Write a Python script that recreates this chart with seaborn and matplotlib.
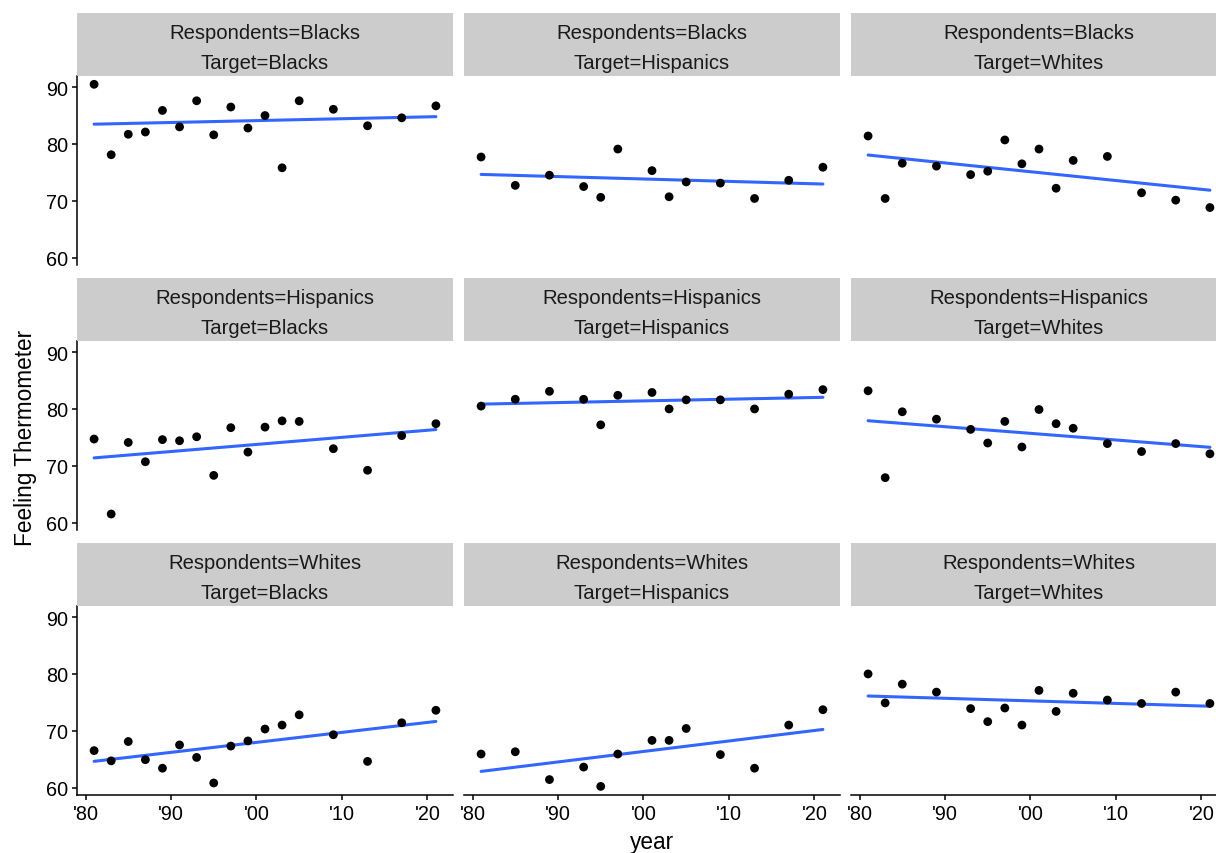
import numpy as np
import pandas as pd
import matplotlib
matplotlib.use("Agg")
import matplotlib.pyplot as plt
import seaborn as sns

# ---------------- data ----------------
groups = ["Blacks", "Hispanics", "Whites"]

years_target_blacks = [1981, 1983, 1985, 1987, 1989, 1991, 1993, 1995, 1997, 1999,
                       2001, 2003, 2005, 2009, 2013, 2017, 2021]
years_target_hispanics = [1981, 1985, 1989, 1993, 1995, 1997, 2001, 2003, 2005,
                          2009, 2013, 2017, 2021]
years_target_whites = [1981, 1983, 1985, 1989, 1993, 1995, 1997, 1999, 2001, 2003,
                       2005, 2009, 2013, 2017, 2021]

blacks_on_blacks = [90.5, 78.1, 81.7, 82.1, 85.9, 83.0, 87.6, 81.6, 86.5, 82.8,
                    85.0, 75.8, 87.6, 86.1, 83.2, 84.6, 86.7]
blacks_on_hispanics = [77.7, 72.7, 74.5, 72.5, 70.6, 79.1, 75.3, 70.7, 73.3,
                       73.1, 70.4, 73.6, 75.9]
blacks_on_whites = [81.4, 70.4, 76.6, 76.1, 74.6, 75.2, 80.7, 76.5, 79.1, 72.2,
                    77.1, 77.8, 71.4, 70.1, 68.8]

hispanics_on_blacks = [74.7, 61.5, 74.1, 70.7, 74.6, 74.4, 75.1, 68.3, 76.7, 72.4,
                       76.8, 77.9, 77.8, 73.0, 69.2, 75.3, 77.4]
hispanics_on_hispanics = [80.5, 81.7, 83.1, 81.7, 77.2, 82.4, 82.9, 80.0, 81.6,
                          81.6, 80.0, 82.6, 83.4]
hispanics_on_whites = [83.2, 67.9, 79.5, 78.2, 76.4, 74.0, 77.8, 73.3, 79.9, 77.4,
                       76.6, 73.9, 72.5, 73.9, 72.1]

whites_on_blacks = [66.5, 64.7, 68.1, 64.9, 63.4, 67.5, 65.3, 60.8, 67.3, 68.2,
                    70.3, 71.0, 72.8, 69.3, 64.6, 71.4, 73.6]
whites_on_hispanics = [65.9, 66.3, 61.4, 63.6, 60.2, 65.9, 68.3, 68.3, 70.4,
                       65.8, 63.4, 71.0, 73.7]
whites_on_whites = [80.0, 74.9, 78.2, 76.8, 73.9, 71.6, 74.0, 71.0, 77.1, 73.4,
                    76.6, 75.4, 74.8, 76.8, 74.8]

x_ticks = [1980, 1990, 2000, 2010, 2020]
x_tick_labels = ["'80", "'90", "'00", "'10", "'20"]
y_ticks = [60, 70, 80, 90]

years_by_target = {"Blacks": years_target_blacks,
                   "Hispanics": years_target_hispanics,
                   "Whites": years_target_whites}
values = {
    ("Blacks", "Blacks"): blacks_on_blacks,
    ("Blacks", "Hispanics"): blacks_on_hispanics,
    ("Blacks", "Whites"): blacks_on_whites,
    ("Hispanics", "Blacks"): hispanics_on_blacks,
    ("Hispanics", "Hispanics"): hispanics_on_hispanics,
    ("Hispanics", "Whites"): hispanics_on_whites,
    ("Whites", "Blacks"): whites_on_blacks,
    ("Whites", "Hispanics"): whites_on_hispanics,
    ("Whites", "Whites"): whites_on_whites,
}

rows = []
for (resp, targ), vals in values.items():
    for yr, v in zip(years_by_target[targ], vals):
        rows.append({"Respondents": resp, "Target": targ, "year": yr, "therm": v})
df = pd.DataFrame(rows)

# ---------------- style ----------------
sns.set_theme(style="white")
plt.rcParams["font.family"] = ["Liberation Sans", "DejaVu Sans"]

W, H = 1216, 854
fig = plt.figure(figsize=(W / 100, H / 100), dpi=100)
fig.patch.set_facecolor("white")

col_left = [77, 464, 851]
col_w = 376
strip_top = [14, 279, 544]
strip_h = 62.7
plot_h = 189.3

ymin, ymax = df["therm"].min(), df["therm"].max()
yr = ymax - ymin
ylim = (ymin - 0.05 * yr, ymax + 0.05 * yr)
xmin, xmax = df["year"].min(), df["year"].max()
xr = xmax - xmin
xlim = (xmin - 0.05 * xr, xmax + 0.05 * xr)

for i, resp in enumerate(groups):
    for j, targ in enumerate(groups):
        sub = df[(df["Respondents"] == resp) & (df["Target"] == targ)]
        ptop = strip_top[i] + strip_h
        ax = fig.add_axes([col_left[j] / W, 1 - (ptop + plot_h) / H,
                           col_w / W, plot_h / H])
        sns.scatterplot(data=sub, x="year", y="therm", ax=ax, color="black",
                        s=40, edgecolor="none", linewidth=0, zorder=3)
        sns.regplot(data=sub, x="year", y="therm", ax=ax, scatter=False, ci=None,
                    color="#3366FF", line_kws={"linewidth": 2.2, "zorder": 2})
        ax.set_xlim(xlim)
        ax.set_ylim(ylim)
        ax.set_xlabel("")
        ax.set_ylabel("")
        ax.set_xticks(x_ticks)
        ax.set_xticklabels(x_tick_labels)
        ax.set_yticks(y_ticks)
        for s in ["top", "right"]:
            ax.spines[s].set_visible(False)
        ax.spines["left"].set_visible(j == 0)
        ax.spines["bottom"].set_visible(i == 2)
        for s in ["left", "bottom"]:
            ax.spines[s].set_color("black")
            ax.spines[s].set_linewidth(1.1)
        ax.tick_params(axis="both", which="major", labelsize=14.3, colors="black",
                       length=3.8, width=1.1, pad=2.5,
                       left=(j == 0), labelleft=(j == 0),
                       bottom=(i == 2), labelbottom=(i == 2))
        ax.set_facecolor("white")

        sax = fig.add_axes([col_left[j] / W, 1 - (strip_top[i] + strip_h) / H,
                            col_w / W, strip_h / H])
        sax.set_facecolor("#CCCCCC")
        sax.set_xticks([])
        sax.set_yticks([])
        for s in sax.spines.values():
            s.set_visible(False)
        sax.text(0.5, 0.69, f"Respondents={resp}", ha="center", va="center",
                 fontsize=14.6, color="#1A1A1A", transform=sax.transAxes)
        sax.text(0.5, 0.215, f"Target={targ}", ha="center", va="center",
                 fontsize=14.6, color="#1A1A1A", transform=sax.transAxes)

fig.text(652 / W, 1 - 843 / H, "year", ha="center", va="center",
         fontsize=16.3, color="black")
fig.text(26 / W, 1 - 438 / H, "Feeling Thermometer", ha="center", va="center",
         rotation=90, fontsize=16.3, color="black")

fig.savefig("out.png", dpi=100, facecolor="white")
